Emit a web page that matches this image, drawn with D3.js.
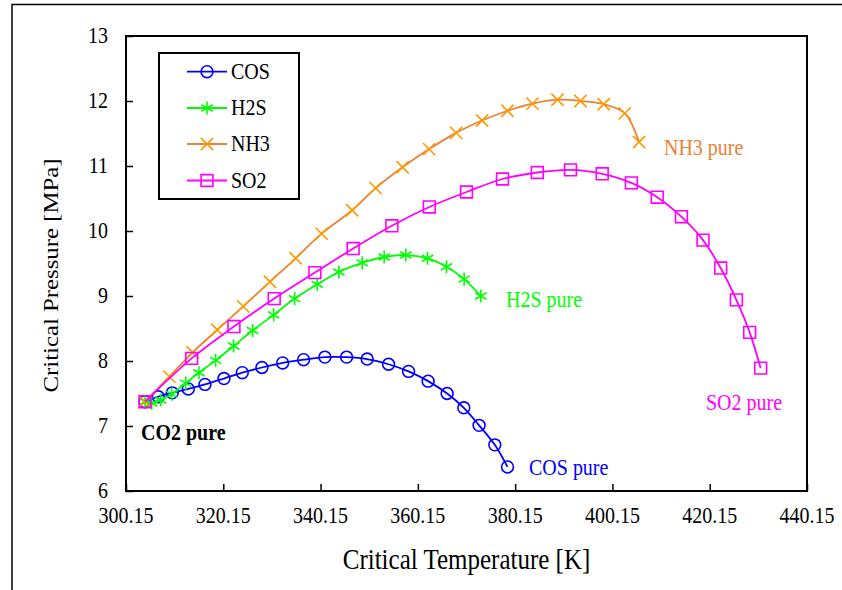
<!DOCTYPE html>
<html><head><meta charset="utf-8">
<script src="https://cdn.jsdelivr.net/npm/d3@7"></script>
<style>body{margin:0;background:#fff}svg{display:block}</style>
</head><body>
<svg id="chart" width="842" height="590"></svg>
<script>
// ---- data ----
const cosT = [304.05,306.79,309.66,312.95,316.38,320.29,324.05,328.09,332.35,336.66,341.04,345.5,349.73,354.13,358.24,362.26,366.17,369.6,372.74,375.97,378.58];
const cosP = [7.374,7.45,7.51,7.57,7.64,7.73,7.82,7.90,7.97,8.02,8.06,8.06,8.03,7.95,7.84,7.69,7.50,7.28,7.01,6.71,6.37];
const h2sT = [304.05,305.43,307.28,309.54,312.42,315.15,318.58,322.28,326.18,330.5,334.81,339.46,343.91,348.7,353.22,357.68,362.14,366.04,369.66,373.09];
const h2sP = [7.374,7.35,7.40,7.49,7.66,7.82,8.01,8.23,8.47,8.71,8.96,9.18,9.37,9.51,9.60,9.63,9.58,9.45,9.26,9.00];
const nh3T = [304.05,309.05,313.85,318.91,324.25,329.74,335.02,340.36,346.65,351.46,357.0,362.47,368.02,373.36,378.58,383.71,388.85,393.58,398.36,402.68,405.62];
const nh3P = [7.374,7.76,8.13,8.48,8.84,9.22,9.58,9.96,10.32,10.66,10.98,11.26,11.51,11.70,11.85,11.96,12.02,12.00,11.95,11.81,11.37];
const so2T = [304.05,313.65,322.34,330.62,338.98,346.85,354.8,362.51,370.15,377.55,384.7,391.52,398.05,404.05,409.36,414.33,418.77,422.4,425.63,428.36,430.62];
const so2P = [7.374,8.04,8.53,8.96,9.36,9.73,10.08,10.37,10.60,10.80,10.90,10.94,10.88,10.74,10.52,10.22,9.86,9.43,8.94,8.44,7.89];
const seriesNames = ["COS","H2S","NH3","SO2"];
const xTicks = [300.15,320.15,340.15,360.15,380.15,400.15,420.15,440.15];
const yTicks = [6,7,8,9,10,11,12,13];
const pureLabels = ["CO2 pure","COS pure","H2S pure","NH3 pure","SO2 pure"];

// ---- layout ----
const svg = d3.select("#chart");
const L = 126, R = 807, T = 36, B = 491;
const x = d3.scaleLinear().domain([300.15,440.15]).range([L,R]);
const y = d3.scaleLinear().domain([6,13]).range([B,T]);
const SY = 1.18; // vertical text stretch of the original
const FONT = "'Liberation Serif','Times New Roman',serif";

function txt(g, s, px, py, opt={}) {
  return g.append("text")
    .attr("transform", `translate(${px},${py}) scale(1,${SY})`)
    .attr("font-family", FONT)
    .attr("font-size", opt.size || 20)
    .attr("font-weight", opt.weight || "normal")
    .attr("text-anchor", opt.anchor || "start")
    .attr("fill", opt.fill || "#000")
    .text(s);
}

// outer frame
svg.append("rect").attr("x",12).attr("y",4.5).attr("width",860).attr("height",600)
  .attr("fill","none").attr("stroke","#000").attr("stroke-width",1.5);

// axes with inward ticks
const gx = svg.append("g").attr("transform",`translate(0,${B})`)
  .call(d3.axisBottom(x).tickValues(xTicks).tickSize(-7).tickFormat(""));
const gy = svg.append("g").attr("transform",`translate(${L},0)`)
  .call(d3.axisLeft(y).tickValues(yTicks).tickSize(-7).tickFormat(""));
[gx,gy].forEach(g=>{g.select(".domain").remove(); g.selectAll("line").attr("stroke","#000").attr("stroke-width",1.5);});

// plot frame
svg.append("rect").attr("x",L).attr("y",T).attr("width",R-L).attr("height",B-T)
  .attr("fill","none").attr("stroke","#000").attr("stroke-width",2);

// tick labels
xTicks.forEach(v => txt(svg, v.toFixed(2), x(v), 523, {anchor:"middle"}));
yTicks.forEach(v => txt(svg, String(v), 108, y(v)+7, {anchor:"end"}));

// axis titles
svg.append("text")
  .attr("transform", `translate(${(L+R)/2},${569}) scale(1,${SY})`)
  .attr("font-family",FONT).attr("font-size",25).attr("text-anchor","middle")
  .text("Critical Temperature [K]");
svg.append("text")
  .attr("transform", `translate(58,${(T+B)/2+12}) rotate(-90) scale(${SY},1)`)
  .attr("font-family",FONT).attr("font-size",21).attr("text-anchor","middle")
  .text("Critical Pressure [MPa]");

// series
const series = [
  {name:seriesNames[0], T:cosT, P:cosP, line:"#0000FF", mark:"#0000FF", sym:d3.symbolCircle, size:110},
  {name:seriesNames[1], T:h2sT, P:h2sP, line:"#00FF00", mark:"#00FF00", sym:d3.symbolAsterisk, size:120},
  {name:seriesNames[2], T:nh3T, P:nh3P, line:"#EE8033", mark:"#FF9900", sym:d3.symbolX, size:100},
  {name:seriesNames[3], T:so2T, P:so2P, line:"#FF00FF", mark:"#FF00FF", sym:d3.symbolSquare, size:140}
];
const lineGen = d3.line().x(d=>x(d[0])).y(d=>y(d[1])).curve(d3.curveCatmullRom.alpha(0.5));
series.forEach(s => {
  const pts = s.T.map((t,i)=>[t,s.P[i]]);
  const g = svg.append("g");
  g.append("path").attr("d", lineGen(pts)).attr("fill","none").attr("stroke",s.line).attr("stroke-width",1.8);
  g.selectAll("path.m").data(pts).join("path").attr("class","m")
    .attr("transform", d=>`translate(${x(d[0])},${y(d[1])})`)
    .attr("d", d3.symbol().type(s.sym).size(s.size))
    .attr("fill","none").attr("stroke",s.mark).attr("stroke-width",1.6);
});

// annotations
txt(svg, pureLabels[0], 141, 440, {weight:"bold"});
txt(svg, pureLabels[1], 529, 475, {fill:"#0000FF"});
txt(svg, pureLabels[2], 506, 307, {fill:"#00FF00"});
txt(svg, pureLabels[3], 664, 155, {fill:"#EE8033"});
txt(svg, pureLabels[4], 706, 410, {fill:"#FF00FF"});

// legend
const lg = svg.append("g");
lg.append("rect").attr("x",159).attr("y",53).attr("width",140).attr("height",146)
  .attr("fill","#fff").attr("stroke","#000").attr("stroke-width",2);
const ly = [71.7,108,144,180.5];
series.forEach((s,i)=>{
  lg.append("line").attr("x1",187).attr("x2",227).attr("y1",ly[i]).attr("y2",ly[i]).attr("stroke",s.line).attr("stroke-width",1.8);
  lg.append("path").attr("transform",`translate(207,${ly[i]})`).attr("d",d3.symbol().type(s.sym).size(s.size))
    .attr("fill","none").attr("stroke",s.mark).attr("stroke-width",1.6);
  txt(lg, s.name, 231, ly[i]+7);
});
</script>
</body></html>
